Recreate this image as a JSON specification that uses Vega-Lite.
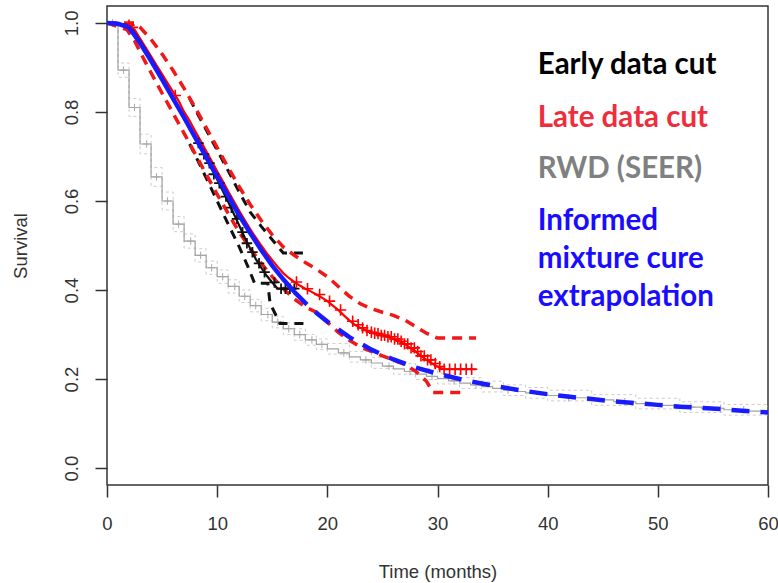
{
  "$schema": "https://vega.github.io/schema/vega-lite/v6.json",
  "width": 661,
  "height": 479,
  "autosize": {"type": "none"},
  "padding": {"left": 107, "top": 6, "right": 10, "bottom": 98},
  "background": "white",
  "config": {
    "view": {"stroke": "#333333", "strokeWidth": 1.5},
    "axis": {
      "domain": false,
      "grid": false,
      "tickColor": "#333333",
      "tickWidth": 1.5,
      "tickSize": 12,
      "labelFont": "Liberation Sans",
      "labelFontSize": 18.5,
      "labelColor": "#333333",
      "titleFont": "Liberation Sans",
      "titleFontSize": 18.5,
      "titleFontWeight": "normal",
      "titleColor": "#333333"
    }
  },
  "datasets": {
    "curves": [
      {"curve": "rwd", "t": 0, "s": 1.0}, {"curve": "rwd", "t": 1, "s": 0.894}, {"curve": "rwd", "t": 2, "s": 0.81},
      {"curve": "rwd", "t": 3, "s": 0.728}, {"curve": "rwd", "t": 4, "s": 0.654}, {"curve": "rwd", "t": 5, "s": 0.6},
      {"curve": "rwd", "t": 6, "s": 0.548}, {"curve": "rwd", "t": 7, "s": 0.51}, {"curve": "rwd", "t": 8, "s": 0.478},
      {"curve": "rwd", "t": 9, "s": 0.45}, {"curve": "rwd", "t": 10, "s": 0.43}, {"curve": "rwd", "t": 11, "s": 0.408},
      {"curve": "rwd", "t": 12, "s": 0.386}, {"curve": "rwd", "t": 13, "s": 0.365}, {"curve": "rwd", "t": 14, "s": 0.345},
      {"curve": "rwd", "t": 15, "s": 0.328}, {"curve": "rwd", "t": 16, "s": 0.313}, {"curve": "rwd", "t": 17, "s": 0.3},
      {"curve": "rwd", "t": 18, "s": 0.288}, {"curve": "rwd", "t": 19, "s": 0.278}, {"curve": "rwd", "t": 20, "s": 0.268},
      {"curve": "rwd", "t": 21, "s": 0.259}, {"curve": "rwd", "t": 22, "s": 0.25}, {"curve": "rwd", "t": 23, "s": 0.243},
      {"curve": "rwd", "t": 24, "s": 0.236}, {"curve": "rwd", "t": 25, "s": 0.229}, {"curve": "rwd", "t": 26, "s": 0.223},
      {"curve": "rwd", "t": 27, "s": 0.217}, {"curve": "rwd", "t": 28, "s": 0.211}, {"curve": "rwd", "t": 29, "s": 0.206},
      {"curve": "rwd", "t": 30, "s": 0.201}, {"curve": "rwd", "t": 31, "s": 0.196}, {"curve": "rwd", "t": 32, "s": 0.191},
      {"curve": "rwd", "t": 33, "s": 0.187}, {"curve": "rwd", "t": 34, "s": 0.183}, {"curve": "rwd", "t": 35, "s": 0.179},
      {"curve": "rwd", "t": 36, "s": 0.175}, {"curve": "rwd", "t": 37, "s": 0.172}, {"curve": "rwd", "t": 38, "s": 0.169},
      {"curve": "rwd", "t": 39, "s": 0.166}, {"curve": "rwd", "t": 40, "s": 0.163}, {"curve": "rwd", "t": 42, "s": 0.158},
      {"curve": "rwd", "t": 44, "s": 0.153}, {"curve": "rwd", "t": 46, "s": 0.149}, {"curve": "rwd", "t": 48, "s": 0.145},
      {"curve": "rwd", "t": 50, "s": 0.141}, {"curve": "rwd", "t": 52, "s": 0.137}, {"curve": "rwd", "t": 54, "s": 0.134},
      {"curve": "rwd", "t": 56, "s": 0.131}, {"curve": "rwd", "t": 58, "s": 0.128}, {"curve": "rwd", "t": 60, "s": 0.125},

      {"curve": "rwd_hi", "t": 0, "s": 1.0}, {"curve": "rwd_hi", "t": 1, "s": 0.91}, {"curve": "rwd_hi", "t": 2, "s": 0.83},
      {"curve": "rwd_hi", "t": 3, "s": 0.75}, {"curve": "rwd_hi", "t": 4, "s": 0.675}, {"curve": "rwd_hi", "t": 5, "s": 0.62},
      {"curve": "rwd_hi", "t": 6, "s": 0.565}, {"curve": "rwd_hi", "t": 7, "s": 0.526}, {"curve": "rwd_hi", "t": 8, "s": 0.493},
      {"curve": "rwd_hi", "t": 9, "s": 0.465}, {"curve": "rwd_hi", "t": 10, "s": 0.445}, {"curve": "rwd_hi", "t": 11, "s": 0.423},
      {"curve": "rwd_hi", "t": 12, "s": 0.4}, {"curve": "rwd_hi", "t": 13, "s": 0.379}, {"curve": "rwd_hi", "t": 14, "s": 0.359},
      {"curve": "rwd_hi", "t": 15, "s": 0.341}, {"curve": "rwd_hi", "t": 16, "s": 0.326}, {"curve": "rwd_hi", "t": 17, "s": 0.313},
      {"curve": "rwd_hi", "t": 18, "s": 0.3}, {"curve": "rwd_hi", "t": 19, "s": 0.29}, {"curve": "rwd_hi", "t": 20, "s": 0.28},
      {"curve": "rwd_hi", "t": 22, "s": 0.262}, {"curve": "rwd_hi", "t": 24, "s": 0.248}, {"curve": "rwd_hi", "t": 26, "s": 0.235},
      {"curve": "rwd_hi", "t": 28, "s": 0.223}, {"curve": "rwd_hi", "t": 30, "s": 0.213}, {"curve": "rwd_hi", "t": 32, "s": 0.203},
      {"curve": "rwd_hi", "t": 34, "s": 0.195}, {"curve": "rwd_hi", "t": 36, "s": 0.187}, {"curve": "rwd_hi", "t": 38, "s": 0.181},
      {"curve": "rwd_hi", "t": 40, "s": 0.175}, {"curve": "rwd_hi", "t": 44, "s": 0.165}, {"curve": "rwd_hi", "t": 48, "s": 0.157},
      {"curve": "rwd_hi", "t": 52, "s": 0.149}, {"curve": "rwd_hi", "t": 56, "s": 0.143}, {"curve": "rwd_hi", "t": 60, "s": 0.137},

      {"curve": "rwd_lo", "t": 0, "s": 1.0}, {"curve": "rwd_lo", "t": 1, "s": 0.878}, {"curve": "rwd_lo", "t": 2, "s": 0.79},
      {"curve": "rwd_lo", "t": 3, "s": 0.706}, {"curve": "rwd_lo", "t": 4, "s": 0.633}, {"curve": "rwd_lo", "t": 5, "s": 0.58},
      {"curve": "rwd_lo", "t": 6, "s": 0.531}, {"curve": "rwd_lo", "t": 7, "s": 0.494}, {"curve": "rwd_lo", "t": 8, "s": 0.463},
      {"curve": "rwd_lo", "t": 9, "s": 0.435}, {"curve": "rwd_lo", "t": 10, "s": 0.415}, {"curve": "rwd_lo", "t": 11, "s": 0.393},
      {"curve": "rwd_lo", "t": 12, "s": 0.372}, {"curve": "rwd_lo", "t": 13, "s": 0.351}, {"curve": "rwd_lo", "t": 14, "s": 0.331},
      {"curve": "rwd_lo", "t": 15, "s": 0.315}, {"curve": "rwd_lo", "t": 16, "s": 0.3}, {"curve": "rwd_lo", "t": 17, "s": 0.287},
      {"curve": "rwd_lo", "t": 18, "s": 0.276}, {"curve": "rwd_lo", "t": 19, "s": 0.266}, {"curve": "rwd_lo", "t": 20, "s": 0.256},
      {"curve": "rwd_lo", "t": 22, "s": 0.238}, {"curve": "rwd_lo", "t": 24, "s": 0.224}, {"curve": "rwd_lo", "t": 26, "s": 0.211},
      {"curve": "rwd_lo", "t": 28, "s": 0.199}, {"curve": "rwd_lo", "t": 30, "s": 0.189}, {"curve": "rwd_lo", "t": 32, "s": 0.179},
      {"curve": "rwd_lo", "t": 34, "s": 0.171}, {"curve": "rwd_lo", "t": 36, "s": 0.163}, {"curve": "rwd_lo", "t": 38, "s": 0.157},
      {"curve": "rwd_lo", "t": 40, "s": 0.151}, {"curve": "rwd_lo", "t": 44, "s": 0.141}, {"curve": "rwd_lo", "t": 48, "s": 0.133},
      {"curve": "rwd_lo", "t": 52, "s": 0.125}, {"curve": "rwd_lo", "t": 56, "s": 0.119}, {"curve": "rwd_lo", "t": 60, "s": 0.113},

      {"curve": "late", "t": 0, "s": 1.0}, {"curve": "late", "t": 1.8, "s": 0.995}, {"curve": "late", "t": 2.5, "s": 0.985},
      {"curve": "late", "t": 3, "s": 0.965}, {"curve": "late", "t": 3.5, "s": 0.945}, {"curve": "late", "t": 4, "s": 0.925},
      {"curve": "late", "t": 4.5, "s": 0.905}, {"curve": "late", "t": 5, "s": 0.885}, {"curve": "late", "t": 5.5, "s": 0.865},
      {"curve": "late", "t": 6, "s": 0.845}, {"curve": "late", "t": 6.5, "s": 0.825}, {"curve": "late", "t": 7, "s": 0.8},
      {"curve": "late", "t": 7.5, "s": 0.78}, {"curve": "late", "t": 8, "s": 0.757}, {"curve": "late", "t": 8.5, "s": 0.735},
      {"curve": "late", "t": 9, "s": 0.712}, {"curve": "late", "t": 9.5, "s": 0.69}, {"curve": "late", "t": 10, "s": 0.667},
      {"curve": "late", "t": 10.5, "s": 0.645}, {"curve": "late", "t": 11, "s": 0.622}, {"curve": "late", "t": 11.5, "s": 0.6},
      {"curve": "late", "t": 12, "s": 0.578}, {"curve": "late", "t": 12.5, "s": 0.557}, {"curve": "late", "t": 13, "s": 0.537},
      {"curve": "late", "t": 13.5, "s": 0.518}, {"curve": "late", "t": 14, "s": 0.5}, {"curve": "late", "t": 14.5, "s": 0.483},
      {"curve": "late", "t": 15, "s": 0.467}, {"curve": "late", "t": 15.5, "s": 0.452}, {"curve": "late", "t": 16, "s": 0.438},
      {"curve": "late", "t": 16.5, "s": 0.427}, {"curve": "late", "t": 17, "s": 0.418}, {"curve": "late", "t": 17.5, "s": 0.41},
      {"curve": "late", "t": 18, "s": 0.403}, {"curve": "late", "t": 18.5, "s": 0.397}, {"curve": "late", "t": 19, "s": 0.39},
      {"curve": "late", "t": 19.5, "s": 0.383}, {"curve": "late", "t": 20, "s": 0.375}, {"curve": "late", "t": 20.5, "s": 0.365},
      {"curve": "late", "t": 21, "s": 0.355}, {"curve": "late", "t": 21.5, "s": 0.343}, {"curve": "late", "t": 22, "s": 0.332},
      {"curve": "late", "t": 22.5, "s": 0.322}, {"curve": "late", "t": 23, "s": 0.315}, {"curve": "late", "t": 23.5, "s": 0.309},
      {"curve": "late", "t": 24, "s": 0.305}, {"curve": "late", "t": 24.5, "s": 0.302}, {"curve": "late", "t": 25, "s": 0.298},
      {"curve": "late", "t": 25.5, "s": 0.295}, {"curve": "late", "t": 26, "s": 0.29}, {"curve": "late", "t": 26.5, "s": 0.285},
      {"curve": "late", "t": 27, "s": 0.279}, {"curve": "late", "t": 27.5, "s": 0.27}, {"curve": "late", "t": 28, "s": 0.262},
      {"curve": "late", "t": 28.5, "s": 0.252}, {"curve": "late", "t": 29, "s": 0.243}, {"curve": "late", "t": 29.5, "s": 0.235},
      {"curve": "late", "t": 30, "s": 0.228}, {"curve": "late", "t": 30.5, "s": 0.222}, {"curve": "late", "t": 33.5, "s": 0.222},

      {"curve": "late_hi", "t": 0, "s": 1.0}, {"curve": "late_hi", "t": 2.5, "s": 1.0}, {"curve": "late_hi", "t": 3, "s": 0.99},
      {"curve": "late_hi", "t": 4, "s": 0.963}, {"curve": "late_hi", "t": 5, "s": 0.93}, {"curve": "late_hi", "t": 6, "s": 0.893},
      {"curve": "late_hi", "t": 7, "s": 0.853}, {"curve": "late_hi", "t": 8, "s": 0.81}, {"curve": "late_hi", "t": 9, "s": 0.765},
      {"curve": "late_hi", "t": 10, "s": 0.72}, {"curve": "late_hi", "t": 11, "s": 0.675}, {"curve": "late_hi", "t": 12, "s": 0.632},
      {"curve": "late_hi", "t": 13, "s": 0.592}, {"curve": "late_hi", "t": 14, "s": 0.556}, {"curve": "late_hi", "t": 15, "s": 0.524},
      {"curve": "late_hi", "t": 16, "s": 0.497}, {"curve": "late_hi", "t": 17, "s": 0.478}, {"curve": "late_hi", "t": 18, "s": 0.462},
      {"curve": "late_hi", "t": 19, "s": 0.447}, {"curve": "late_hi", "t": 20, "s": 0.43}, {"curve": "late_hi", "t": 21, "s": 0.408},
      {"curve": "late_hi", "t": 22, "s": 0.386}, {"curve": "late_hi", "t": 23, "s": 0.369}, {"curve": "late_hi", "t": 24, "s": 0.358},
      {"curve": "late_hi", "t": 25, "s": 0.35}, {"curve": "late_hi", "t": 26, "s": 0.343}, {"curve": "late_hi", "t": 27, "s": 0.333},
      {"curve": "late_hi", "t": 28, "s": 0.318}, {"curve": "late_hi", "t": 29, "s": 0.303}, {"curve": "late_hi", "t": 30, "s": 0.292},
      {"curve": "late_hi", "t": 33.5, "s": 0.292},

      {"curve": "late_lo", "t": 0, "s": 1.0}, {"curve": "late_lo", "t": 1.8, "s": 0.985}, {"curve": "late_lo", "t": 2.5, "s": 0.96},
      {"curve": "late_lo", "t": 3, "s": 0.935}, {"curve": "late_lo", "t": 4, "s": 0.888}, {"curve": "late_lo", "t": 5, "s": 0.842},
      {"curve": "late_lo", "t": 6, "s": 0.797}, {"curve": "late_lo", "t": 7, "s": 0.752}, {"curve": "late_lo", "t": 8, "s": 0.706},
      {"curve": "late_lo", "t": 9, "s": 0.66}, {"curve": "late_lo", "t": 10, "s": 0.615}, {"curve": "late_lo", "t": 11, "s": 0.572},
      {"curve": "late_lo", "t": 12, "s": 0.53}, {"curve": "late_lo", "t": 13, "s": 0.493}, {"curve": "late_lo", "t": 14, "s": 0.46},
      {"curve": "late_lo", "t": 15, "s": 0.43}, {"curve": "late_lo", "t": 16, "s": 0.403}, {"curve": "late_lo", "t": 17, "s": 0.38},
      {"curve": "late_lo", "t": 18, "s": 0.362}, {"curve": "late_lo", "t": 19, "s": 0.35}, {"curve": "late_lo", "t": 20, "s": 0.328},
      {"curve": "late_lo", "t": 21, "s": 0.305}, {"curve": "late_lo", "t": 22, "s": 0.287}, {"curve": "late_lo", "t": 23, "s": 0.272},
      {"curve": "late_lo", "t": 24, "s": 0.262}, {"curve": "late_lo", "t": 25, "s": 0.252}, {"curve": "late_lo", "t": 26, "s": 0.243},
      {"curve": "late_lo", "t": 27, "s": 0.233}, {"curve": "late_lo", "t": 28, "s": 0.218}, {"curve": "late_lo", "t": 29, "s": 0.195},
      {"curve": "late_lo", "t": 29.6, "s": 0.17}, {"curve": "late_lo", "t": 32.5, "s": 0.17},

      {"curve": "early", "t": 0, "s": 1.0}, {"curve": "early", "t": 2, "s": 0.995}, {"curve": "early", "t": 3, "s": 0.96},
      {"curve": "early", "t": 4, "s": 0.92}, {"curve": "early", "t": 5, "s": 0.877}, {"curve": "early", "t": 6, "s": 0.833},
      {"curve": "early", "t": 7, "s": 0.788}, {"curve": "early", "t": 8, "s": 0.742}, {"curve": "early", "t": 8.5, "s": 0.718},
      {"curve": "early", "t": 9, "s": 0.695}, {"curve": "early", "t": 9.5, "s": 0.672}, {"curve": "early", "t": 10, "s": 0.648},
      {"curve": "early", "t": 10.5, "s": 0.623}, {"curve": "early", "t": 11, "s": 0.598}, {"curve": "early", "t": 11.5, "s": 0.572},
      {"curve": "early", "t": 12, "s": 0.545}, {"curve": "early", "t": 12.5, "s": 0.518}, {"curve": "early", "t": 13, "s": 0.493},
      {"curve": "early", "t": 13.5, "s": 0.47}, {"curve": "early", "t": 14, "s": 0.45}, {"curve": "early", "t": 14.5, "s": 0.432},
      {"curve": "early", "t": 15, "s": 0.417}, {"curve": "early", "t": 15.5, "s": 0.403}, {"curve": "early", "t": 17.2, "s": 0.403},

      {"curve": "early_hi", "t": 7.5, "s": 0.83}, {"curve": "early_hi", "t": 8, "s": 0.806}, {"curve": "early_hi", "t": 9, "s": 0.76},
      {"curve": "early_hi", "t": 10, "s": 0.714}, {"curve": "early_hi", "t": 11, "s": 0.668}, {"curve": "early_hi", "t": 12, "s": 0.62},
      {"curve": "early_hi", "t": 13, "s": 0.575}, {"curve": "early_hi", "t": 14, "s": 0.543}, {"curve": "early_hi", "t": 15, "s": 0.513},
      {"curve": "early_hi", "t": 16, "s": 0.483}, {"curve": "early_hi", "t": 17.8, "s": 0.483},

      {"curve": "early_lo", "t": 7.5, "s": 0.728}, {"curve": "early_lo", "t": 8, "s": 0.703},
      {"curve": "early_lo", "t": 9, "s": 0.652}, {"curve": "early_lo", "t": 10, "s": 0.6}, {"curve": "early_lo", "t": 11, "s": 0.548},
      {"curve": "early_lo", "t": 12, "s": 0.497}, {"curve": "early_lo", "t": 12.8, "s": 0.452}, {"curve": "early_lo", "t": 13.4, "s": 0.415},
      {"curve": "early_lo", "t": 14.6, "s": 0.415}, {"curve": "early_lo", "t": 14.8, "s": 0.37}, {"curve": "early_lo", "t": 15.2, "s": 0.35},
      {"curve": "early_lo", "t": 15.7, "s": 0.325}, {"curve": "early_lo", "t": 18.3, "s": 0.325},

      {"curve": "cure", "t": 0, "s": 1.0}, {"curve": "cure", "t": 1, "s": 0.998}, {"curve": "cure", "t": 2, "s": 0.99},
      {"curve": "cure", "t": 3, "s": 0.955}, {"curve": "cure", "t": 4, "s": 0.915}, {"curve": "cure", "t": 5, "s": 0.873},
      {"curve": "cure", "t": 6, "s": 0.83}, {"curve": "cure", "t": 7, "s": 0.787}, {"curve": "cure", "t": 8, "s": 0.743},
      {"curve": "cure", "t": 9, "s": 0.699}, {"curve": "cure", "t": 10, "s": 0.655}, {"curve": "cure", "t": 11, "s": 0.611},
      {"curve": "cure", "t": 12, "s": 0.568}, {"curve": "cure", "t": 13, "s": 0.528}, {"curve": "cure", "t": 14, "s": 0.49},
      {"curve": "cure", "t": 15, "s": 0.455}, {"curve": "cure", "t": 16, "s": 0.424}, {"curve": "cure", "t": 17, "s": 0.396},
      {"curve": "cure", "t": 18, "s": 0.371}, {"curve": "cure", "t": 19, "s": 0.349}, {"curve": "cure", "t": 20, "s": 0.329},
      {"curve": "cure", "t": 22, "s": 0.294}, {"curve": "cure", "t": 24, "s": 0.266}, {"curve": "cure", "t": 26, "s": 0.244},
      {"curve": "cure", "t": 28, "s": 0.226}, {"curve": "cure", "t": 30, "s": 0.212}, {"curve": "cure", "t": 32, "s": 0.2},
      {"curve": "cure", "t": 34, "s": 0.19}, {"curve": "cure", "t": 36, "s": 0.181}, {"curve": "cure", "t": 38, "s": 0.173},
      {"curve": "cure", "t": 40, "s": 0.166}, {"curve": "cure", "t": 42, "s": 0.16}, {"curve": "cure", "t": 44, "s": 0.155},
      {"curve": "cure", "t": 46, "s": 0.15}, {"curve": "cure", "t": 48, "s": 0.146}, {"curve": "cure", "t": 50, "s": 0.142},
      {"curve": "cure", "t": 52, "s": 0.138}, {"curve": "cure", "t": 54, "s": 0.135}, {"curve": "cure", "t": 56, "s": 0.132},
      {"curve": "cure", "t": 58, "s": 0.128}, {"curve": "cure", "t": 60, "s": 0.125}
    ],
    "censored": [
      {"cohort": "rwd", "t": 0.5, "s": 1.0}, {"cohort": "rwd", "t": 1.5, "s": 0.894}, {"cohort": "rwd", "t": 2.5, "s": 0.81},
      {"cohort": "rwd", "t": 3.6, "s": 0.728}, {"cohort": "rwd", "t": 4.5, "s": 0.654}, {"cohort": "rwd", "t": 5.5, "s": 0.6},
      {"cohort": "rwd", "t": 6.5, "s": 0.548}, {"cohort": "rwd", "t": 7.6, "s": 0.51}, {"cohort": "rwd", "t": 8.5, "s": 0.478},
      {"cohort": "rwd", "t": 9.5, "s": 0.45}, {"cohort": "rwd", "t": 10.5, "s": 0.43}, {"cohort": "rwd", "t": 11.6, "s": 0.408},
      {"cohort": "rwd", "t": 12.5, "s": 0.386}, {"cohort": "rwd", "t": 13.5, "s": 0.365}, {"cohort": "rwd", "t": 14.6, "s": 0.345},
      {"cohort": "rwd", "t": 15.5, "s": 0.328}, {"cohort": "rwd", "t": 16.5, "s": 0.313}, {"cohort": "rwd", "t": 17.5, "s": 0.3},
      {"cohort": "rwd", "t": 18.6, "s": 0.288}, {"cohort": "rwd", "t": 19.5, "s": 0.278}, {"cohort": "rwd", "t": 21.5, "s": 0.259},
      {"cohort": "rwd", "t": 23.5, "s": 0.243}, {"cohort": "rwd", "t": 25.6, "s": 0.229}, {"cohort": "rwd", "t": 27.5, "s": 0.217},
      {"cohort": "rwd", "t": 29.5, "s": 0.206}, {"cohort": "rwd", "t": 31.5, "s": 0.196}, {"cohort": "rwd", "t": 33.5, "s": 0.187},
      {"cohort": "rwd", "t": 36.4, "s": 0.175}, {"cohort": "rwd", "t": 41.9, "s": 0.158}, {"cohort": "rwd", "t": 47, "s": 0.149},
      {"cohort": "rwd", "t": 53, "s": 0.137}, {"cohort": "rwd", "t": 55.7, "s": 0.134}, {"cohort": "rwd", "t": 57.8, "s": 0.131},

      {"cohort": "late", "t": 2.0, "s": 0.995}, {"cohort": "late", "t": 2.3, "s": 0.99}, {"cohort": "late", "t": 6.2, "s": 0.837},
      {"cohort": "late", "t": 17.2, "s": 0.418}, {"cohort": "late", "t": 18.2, "s": 0.403}, {"cohort": "late", "t": 19.3, "s": 0.39},
      {"cohort": "late", "t": 20.2, "s": 0.375}, {"cohort": "late", "t": 21.2, "s": 0.355}, {"cohort": "late", "t": 22.3, "s": 0.33},
      {"cohort": "late", "t": 22.8, "s": 0.322}, {"cohort": "late", "t": 23.2, "s": 0.315}, {"cohort": "late", "t": 23.6, "s": 0.309},
      {"cohort": "late", "t": 24.0, "s": 0.305}, {"cohort": "late", "t": 24.3, "s": 0.303}, {"cohort": "late", "t": 24.6, "s": 0.302},
      {"cohort": "late", "t": 24.9, "s": 0.298}, {"cohort": "late", "t": 25.2, "s": 0.298}, {"cohort": "late", "t": 25.5, "s": 0.295},
      {"cohort": "late", "t": 25.8, "s": 0.295}, {"cohort": "late", "t": 26.1, "s": 0.29}, {"cohort": "late", "t": 26.4, "s": 0.29},
      {"cohort": "late", "t": 26.7, "s": 0.285}, {"cohort": "late", "t": 27.0, "s": 0.279}, {"cohort": "late", "t": 27.3, "s": 0.279},
      {"cohort": "late", "t": 27.6, "s": 0.27}, {"cohort": "late", "t": 27.9, "s": 0.27}, {"cohort": "late", "t": 28.2, "s": 0.262},
      {"cohort": "late", "t": 28.5, "s": 0.252}, {"cohort": "late", "t": 28.8, "s": 0.252}, {"cohort": "late", "t": 29.1, "s": 0.243},
      {"cohort": "late", "t": 29.4, "s": 0.243}, {"cohort": "late", "t": 29.8, "s": 0.235}, {"cohort": "late", "t": 30.2, "s": 0.228},
      {"cohort": "late", "t": 30.6, "s": 0.222}, {"cohort": "late", "t": 31.1, "s": 0.222}, {"cohort": "late", "t": 31.6, "s": 0.222},
      {"cohort": "late", "t": 32.1, "s": 0.222}, {"cohort": "late", "t": 32.6, "s": 0.222}, {"cohort": "late", "t": 33.1, "s": 0.222},

      {"cohort": "early", "t": 8.3, "s": 0.73}, {"cohort": "early", "t": 8.8, "s": 0.705}, {"cohort": "early", "t": 9.3, "s": 0.685},
      {"cohort": "early", "t": 9.7, "s": 0.66}, {"cohort": "early", "t": 10.2, "s": 0.64}, {"cohort": "early", "t": 10.8, "s": 0.61},
      {"cohort": "early", "t": 11.3, "s": 0.585}, {"cohort": "early", "t": 11.8, "s": 0.56}, {"cohort": "early", "t": 12.3, "s": 0.53},
      {"cohort": "early", "t": 12.7, "s": 0.505}, {"cohort": "early", "t": 13.2, "s": 0.485}, {"cohort": "early", "t": 13.8, "s": 0.46},
      {"cohort": "early", "t": 14.3, "s": 0.44}, {"cohort": "early", "t": 15.2, "s": 0.417}, {"cohort": "early", "t": 15.8, "s": 0.403},
      {"cohort": "early", "t": 16.2, "s": 0.403}, {"cohort": "early", "t": 16.6, "s": 0.403}, {"cohort": "early", "t": 17.0, "s": 0.403}
    ],
    "labels": [
      {"group": "early", "text": "Early data cut", "t": 39.1, "s": 0.885},
      {"group": "late", "text": "Late data cut", "t": 39.1, "s": 0.766},
      {"group": "rwd", "text": "RWD (SEER)", "t": 39.1, "s": 0.652},
      {"group": "cure", "text": "Informed\nmixture cure\nextrapolation", "t": 39.1, "s": 0.535}
    ]
  },
  "encoding": {
    "x": {
      "field": "t",
      "type": "quantitative",
      "scale": {"domain": [0, 60], "nice": false, "zero": false},
      "axis": {"title": "Time (months)", "values": [0, 10, 20, 30, 40, 50, 60], "labelPadding": 17, "titlePadding": 30, "labelFlush": false}
    },
    "y": {
      "field": "s",
      "type": "quantitative",
      "scale": {"domain": [-0.038, 1.038], "nice": false, "zero": false},
      "axis": {"title": "Survival", "values": [0, 0.2, 0.4, 0.6, 0.8, 1.0], "format": ".1f", "labelAngle": -90, "labelPadding": 14, "titlePadding": 32, "labelFlush": false}
    }
  },
  "layer": [
    {
      "data": {"name": "curves"},
      "transform": [{"filter": {"field": "curve", "oneOf": ["rwd_lo", "rwd_hi"]}}],
      "mark": {"type": "line", "interpolate": "step-after", "color": "#cccccc", "strokeWidth": 1, "strokeDash": [3, 3], "clip": true},
      "encoding": {"detail": {"field": "curve"}}
    },
    {
      "data": {"name": "curves"},
      "transform": [{"filter": {"field": "curve", "equal": "rwd"}}],
      "mark": {"type": "line", "interpolate": "step-after", "color": "#a2a2a2", "strokeWidth": 1.2, "clip": true}
    },
    {
      "data": {"name": "censored"},
      "transform": [{"filter": {"field": "cohort", "equal": "rwd"}}],
      "mark": {"type": "point", "shape": "M-1,0L1,0M0,-1L0,1", "filled": false, "size": 55, "color": "#a8a8a8", "strokeWidth": 1, "opacity": 1}
    },
    {
      "data": {"name": "curves"},
      "transform": [{"filter": {"field": "curve", "oneOf": ["early_lo", "early_hi"]}}],
      "mark": {"type": "line", "color": "#111111", "strokeWidth": 3, "strokeDash": [9, 7], "clip": true},
      "encoding": {"detail": {"field": "curve"}}
    },
    {
      "data": {"name": "curves"},
      "transform": [{"filter": {"field": "curve", "oneOf": ["late_lo", "late_hi"]}}],
      "mark": {"type": "line", "color": "#f01818", "strokeWidth": 3.5, "strokeDash": [10, 7], "clip": true},
      "encoding": {"detail": {"field": "curve"}}
    },
    {
      "data": {"name": "curves"},
      "transform": [{"filter": {"field": "curve", "equal": "late"}}],
      "mark": {"type": "line", "color": "#ff0000", "strokeWidth": 2.2, "clip": true}
    },
    {
      "data": {"name": "curves"},
      "transform": [{"filter": {"field": "curve", "equal": "early"}}],
      "mark": {"type": "line", "color": "#111111", "strokeWidth": 2.2, "clip": true}
    },
    {
      "data": {"name": "censored"},
      "transform": [{"filter": {"field": "cohort", "equal": "early"}}],
      "mark": {"type": "point", "shape": "M-1,0L1,0M0,-1L0,1", "filled": false, "size": 110, "color": "#111111", "strokeWidth": 1.8, "opacity": 1}
    },
    {
      "data": {"name": "censored"},
      "transform": [{"filter": {"field": "cohort", "equal": "late"}}],
      "mark": {"type": "point", "shape": "M-1,0L1,0M0,-1L0,1", "filled": false, "size": 130, "color": "#ff0000", "strokeWidth": 1.6, "opacity": 1}
    },
    {
      "data": {"name": "curves"},
      "transform": [{"filter": {"field": "curve", "equal": "cure"}}, {"filter": "datum.t <= 17"}],
      "mark": {"type": "line", "color": "#1a1aff", "strokeWidth": 4.5, "clip": true}
    },
    {
      "data": {"name": "curves"},
      "transform": [{"filter": {"field": "curve", "equal": "cure"}}, {"filter": "datum.t >= 17"}],
      "mark": {"type": "line", "color": "#1a1aff", "strokeWidth": 4.5, "strokeDash": [18, 11], "clip": true}
    },
    {
      "data": {"name": "labels"},
      "mark": {"type": "text", "align": "left", "baseline": "alphabetic", "font": "Lato", "fontWeight": "bold", "fontSize": 29.5, "lineBreak": "\n", "lineHeight": 38},
      "encoding": {
        "text": {"field": "text"},
        "color": {
          "field": "group",
          "type": "nominal",
          "scale": {"domain": ["early", "late", "rwd", "cure"], "range": ["#000000", "#ee2e3c", "#808080", "#1a0dff"]},
          "legend": null
        }
      }
    }
  ]
}
